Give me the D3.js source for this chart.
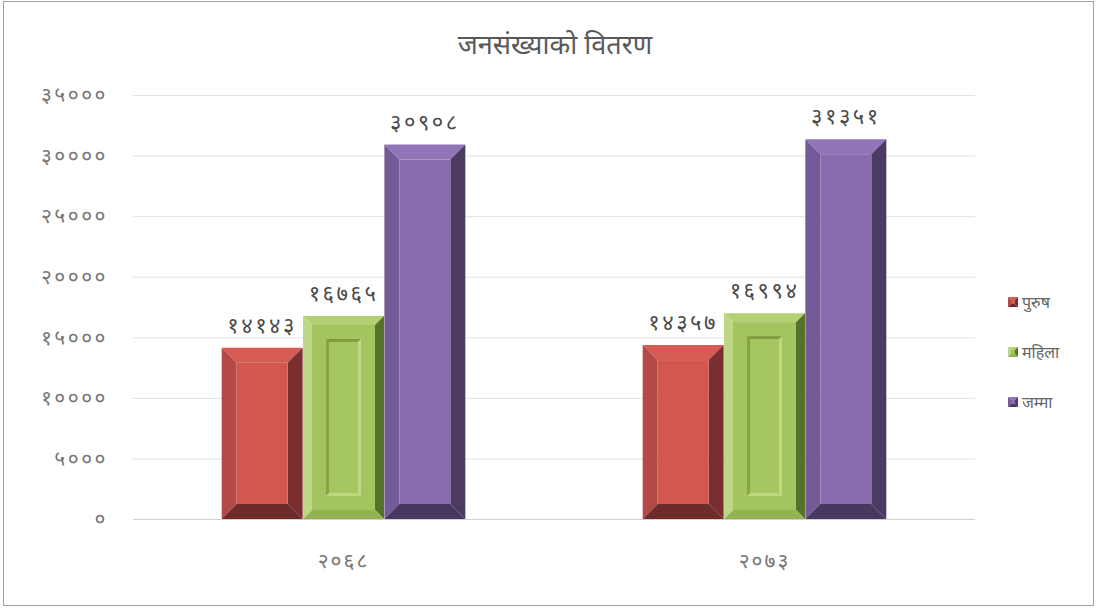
<!DOCTYPE html>
<html>
<head>
<meta charset="utf-8">
<script src="https://cdn.jsdelivr.net/npm/d3@7"></script>
<style>
  body { margin: 0; background: #fff; }
  text { font-family: "Noto Sans", "DejaVu Sans", sans-serif; }
</style>
</head>
<body>
<div id="chart"></div>
<script>
// Data
const title = "जनसंख्याको वितरण";
const years = ["२०६८", "२०७३"];
const seriesNames = ["पुरुष", "महिला", "जम्मा"];
const purush = [14143, 14357];
const mahila = [16765, 16994];
const jamma = [30908, 31351];
const yTicks = [0, 5000, 10000, 15000, 20000, 25000, 30000, 35000];

const width = 1098, height = 610;
const margin = { left: 133, right: 123, top: 95, bottom: 91 };

// convert western digits to devanagari
const devDigits = "०१२३४५६७८९";
const toDev = n => String(n).replace(/[0-9]/g, c => devDigits[+c]);

const palette = [
  { face: "#d4574f", top: "#d65b54", left: "#b44a46", right: "#7a2f2e", bottom: "#6d2b2a" },
  { face: "#a3c45f", top: "#b3d172", left: "#bcd884", right: "#56712a", bottom: "#93b352" },
  { face: "#8a6bb0", top: "#9175b8", left: "#735a98", right: "#4b3a62", bottom: "#473860" }
];

const svg = d3.select("#chart")
  .append("svg")
  .attr("width", width)
  .attr("height", height);

// outer frame
svg.append("rect")
  .attr("x", 3.5).attr("y", 1.5)
  .attr("width", 1090).attr("height", 604)
  .attr("fill", "#fff")
  .attr("stroke", "#444")
  .attr("stroke-dasharray", "1,1");

const x0 = d3.scaleBand()
  .domain(years)
  .range([margin.left, width - margin.right]);

const x1 = d3.scaleBand()
  .domain(seriesNames)
  .range([0, x0.bandwidth()])
  .paddingOuter(1.09)
  .paddingInner(0.005);

const y = d3.scaleLinear()
  .domain([0, 35000])
  .range([height - margin.bottom, margin.top]);

// gridlines
svg.append("g")
  .selectAll("line")
  .data(yTicks)
  .enter()
  .append("line")
  .attr("x1", margin.left)
  .attr("x2", width - margin.right)
  .attr("y1", d => y(d) + 0.5)
  .attr("y2", d => y(d) + 0.5)
  .attr("stroke", d => d === 0 ? "#d0d0d0" : "#e2e2e2");

// y axis labels
svg.append("g")
  .selectAll("text")
  .data(yTicks)
  .enter()
  .append("text")
  .attr("x", 108)
  .attr("y", d => y(d))
  .attr("dy", "0.35em")
  .attr("text-anchor", "end")
  .attr("font-size", 21)
  .attr("letter-spacing", 2.5)
  .attr("fill", "#777")
  .text(d => toDev(d));

// x axis labels
svg.append("g")
  .selectAll("text")
  .data(years)
  .enter()
  .append("text")
  .attr("x", d => x0(d) + x0.bandwidth() / 2)
  .attr("y", 561)
  .attr("dy", "0.35em")
  .attr("text-anchor", "middle")
  .attr("font-size", 21)
  .attr("letter-spacing", 2)
  .attr("fill", "#777")
  .text(d => d);

// title
svg.append("text")
  .attr("x", 555)
  .attr("y", 45)
  .attr("dy", "0.35em")
  .attr("text-anchor", "middle")
  .attr("font-size", 27)
  .attr("fill", "#595959")
  .text(title);

// beveled bar
function bevelBar(g, bx, by, w, h, c, b, inner) {
  const poly = pts => g.append("polygon").attr("points", pts.map(p => p.join(",")).join(" "));
  poly([[bx, by], [bx + w, by], [bx + w - b, by + b], [bx + b, by + b]]).attr("fill", c.top);
  poly([[bx, by], [bx + b, by + b], [bx + b, by + h - b], [bx, by + h]]).attr("fill", c.left);
  poly([[bx + w, by], [bx + w, by + h], [bx + w - b, by + h - b], [bx + w - b, by + b]]).attr("fill", c.right);
  poly([[bx, by + h], [bx + b, by + h - b], [bx + w - b, by + h - b], [bx + w, by + h]]).attr("fill", c.bottom);
  g.append("rect")
    .attr("x", bx + b).attr("y", by + b)
    .attr("width", w - 2 * b).attr("height", h - 2 * b)
    .attr("fill", c.face);
  if (inner) {
    // inner inset panel (green bars)
    const ins = 23;
    const ix = bx + ins, iy = by + ins, iw = w - 2 * ins, ih = h - 2 * ins, ib = 3;
    poly([[ix, iy], [ix + iw, iy], [ix + iw - ib, iy + ib], [ix + ib, iy + ib]]).attr("fill", "#7f9c3f");
    poly([[ix, iy], [ix + ib, iy + ib], [ix + ib, iy + ih - ib], [ix, iy + ih]]).attr("fill", "#86a345");
    poly([[ix + iw, iy], [ix + iw, iy + ih], [ix + iw - ib, iy + ih - ib], [ix + iw - ib, iy + ib]]).attr("fill", "#bfd985");
    poly([[ix, iy + ih], [ix + ib, iy + ih - ib], [ix + iw - ib, iy + ih - ib], [ix + iw, iy + ih]]).attr("fill", "#bcd782");
    g.append("rect")
      .attr("x", ix + ib).attr("y", iy + ib)
      .attr("width", iw - 2 * ib).attr("height", ih - 2 * ib)
      .attr("fill", "#a6c662");
  }
}

const seriesValues = [purush, mahila, jamma];
const bars = svg.append("g");
years.forEach((yr, i) => {
  seriesNames.forEach((s, j) => {
    const v = seriesValues[j][i];
    const bx = x0(yr) + x1(s);
    const by = y(v);
    const h = y(0) - by;
    bevelBar(bars.append("g"), bx, by, x1.bandwidth(), h, palette[j], j === 1 ? 9 : 15, j === 1);
    bars.append("text")
      .attr("x", bx + x1.bandwidth() / 2)
      .attr("y", by - 15)
      .attr("text-anchor", "middle")
      .attr("font-size", 22)
      .attr("letter-spacing", 2.5)
      .attr("fill", "#4a4a4a")
      .text(toDev(v));
  });
});

// legend
const legend = svg.append("g")
  .attr("transform", "translate(1008, 302)");
seriesNames.forEach((s, j) => {
  const g = legend.append("g").attr("transform", `translate(0, ${j * 50})`);
  bevelBar(g, 0, -5, 10, 10, palette[j], 3, false);
  g.append("text")
    .attr("x", 14)
    .attr("y", 0)
    .attr("dy", "0.35em")
    .attr("font-size", 16)
    .attr("fill", "#666")
    .text(s);
});
</script>
</body>
</html>
